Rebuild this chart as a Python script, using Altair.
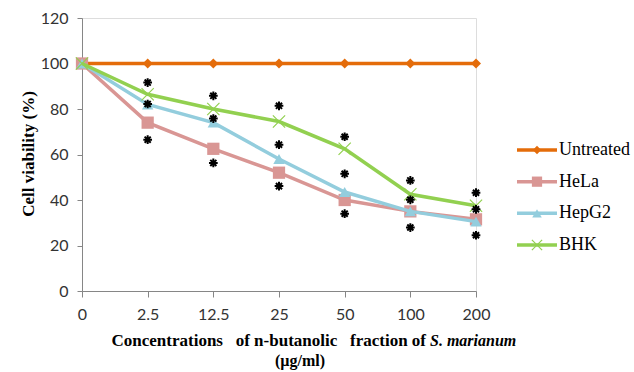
import altair as alt
import pandas as pd

concentrations = ["0", "2.5", "12.5", "25", "50", "100", "200"]
series_names = ["Untreated", "HeLa", "HepG2", "BHK"]
series_colors = ["#E46C0A", "#D99694", "#93CDDD", "#92D050"]
untreated = [100, 100, 100, 100, 100, 100, 100]
hela = [100, 74, 62.5, 52, 40, 35, 31.5]
hepg2 = [100, 82, 74, 58, 43.5, 35, 30.5]
bhk = [100, 86.5, 80, 74.5, 62.5, 42.5, 37.5]

# significance asterisks (concentration, y position)
star_conc = ["2.5", "2.5", "2.5", "12.5", "12.5", "12.5", "25", "25", "25",
             "50", "50", "50", "100", "100", "100", "200", "200", "200"]
star_vals = [91.6, 82.2, 66.5, 85.8, 75.8, 56.3, 81.4, 64.3, 46.1,
             67.8, 51.5, 34.0, 48.6, 40.1, 27.9, 43.2, 35.9, 24.5]

y_ticks = [0, 20, 40, 60, 80, 100, 120]
x_title_main = "Concentrations\u00a0\u00a0\u00a0of n-butanolic\u00a0\u00a0\u00a0fraction of"
x_title_italic = "S. marianum"
x_title_unit = "(\u00b5g/ml)"
y_title = "Cell viability  (%)"

SERIF = "'Liberation Serif', 'Times New Roman', Times, serif"

rows = []
for name, vals in zip(series_names, [untreated, hela, hepg2, bhk]):
    for c, v in zip(concentrations, vals):
        rows.append({"conc": c, "series": name, "value": v})
df = pd.DataFrame(rows)
stars = pd.DataFrame({"conc": star_conc, "value": star_vals})
leg = pd.DataFrame({"series": series_names})

W, H = 394, 273
color = alt.Color("series:N", scale=alt.Scale(domain=series_names, range=series_colors), legend=None)

x_enc = alt.X("conc:N", sort=concentrations,
              scale=alt.Scale(type="point", padding=0),
              axis=alt.Axis(title=None, labelAngle=0, labelFont="Lato", labelFontSize=16,
                            labelColor="#333333", domainColor="#868686", tickColor="#868686",
                            tickSize=6, labelPadding=9, grid=False))
y_enc = alt.Y("value:Q", scale=alt.Scale(domain=[0, 120], nice=False),
              axis=alt.Axis(values=y_ticks, title=y_title, titleFont=SERIF,
                            titleFontSize=17, titleFontWeight="bold", titleColor="#000000",
                            titleAngle=-90, titleX=-54, titleY=H / 2 - 1, titleAlign="center",
                            titleBaseline="middle",
                            labelFont="Lato", labelFontSize=16, labelColor="#333333",
                            domainColor="#868686", tickColor="#868686", tickSize=5,
                            labelPadding=9, grid=False))

cross_path = "M-1,-1L1,1M-1,1L1,-1"
star_path = "M0,-1L0,1M-1,0L1,0M-0.7,-0.7L0.7,0.7M-0.7,0.7L0.7,-0.7"

marker = {
    "Untreated": dict(shape="diamond", filled=True, size=100),
    "HeLa": dict(shape="square", filled=True, size=150),
    "HepG2": dict(shape="triangle-up", filled=True, size=130),
    "BHK": dict(shape=cross_path, filled=False, size=150, strokeWidth=1.2),
}

base = alt.Chart(df).encode(x=x_enc, y=y_enc, color=color)
layers = []
for name in series_names:
    sub = base.transform_filter(alt.datum.series == name)
    layers.append(sub.mark_line(strokeWidth=3.5))
    layers.append(sub.mark_point(opacity=1, **marker[name]))

star_layer = alt.Chart(stars).mark_point(shape=star_path, filled=False, color="#000000",
                                         strokeWidth=2, size=76, opacity=1).encode(
    x=alt.X("conc:N", sort=concentrations), y="value:Q")
layers.append(star_layer)
main = alt.layer(*layers)

# legend drawn as marks
leg_y = alt.Y("series:N", sort=series_names,
              scale=alt.Scale(type="point", domain=series_names, range=[132, 227], padding=0),
              axis=None)
leg_base = alt.Chart(leg).encode(y=leg_y, color=color)
leg_layers = [leg_base.mark_rule(strokeWidth=3.5).encode(x=alt.value(435), x2=alt.value(475))]
for name in series_names:
    leg_layers.append(leg_base.transform_filter(alt.datum.series == name)
                      .mark_point(opacity=1, **{**marker[name], "size": marker[name]["size"] * 0.7})
                      .encode(x=alt.value(455)))
leg_layers.append(leg_base.mark_text(align="left", baseline="middle", font=SERIF,
                                     fontSize=18, color="#000000")
                  .encode(x=alt.value(477), text="series:N", color=alt.value("#000000")))
legend = alt.layer(*leg_layers)

t1 = alt.Chart(pd.DataFrame({"t": [x_title_main]})).mark_text(
    align="right", baseline="middle", font=SERIF, fontSize=17,
    fontWeight="bold", color="#000000").encode(x=alt.value(344), y=alt.value(323), text="t:N")
t2 = alt.Chart(pd.DataFrame({"t": [x_title_italic]})).mark_text(
    align="left", baseline="middle", font=SERIF, fontSize=16,
    fontWeight="bold", fontStyle="italic", color="#000000").encode(
    x=alt.value(348), y=alt.value(323), text="t:N")
t3 = alt.Chart(pd.DataFrame({"t": [x_title_unit]})).mark_text(
    align="center", baseline="middle", font=SERIF, fontSize=16,
    fontWeight="bold", color="#000000").encode(x=alt.value(218), y=alt.value(343), text="t:N")

chart = alt.layer(main, legend, t1, t2, t3).resolve_scale(y="independent").properties(
    width=W, height=H,
    padding={"left": 82, "top": 18, "right": 158, "bottom": 81},
    autosize=alt.AutoSizeParams(type="none"),
).configure_view(stroke=None).configure(background="white")

chart.save("out.html", embed_options={"renderer": "svg", "actions": False})
